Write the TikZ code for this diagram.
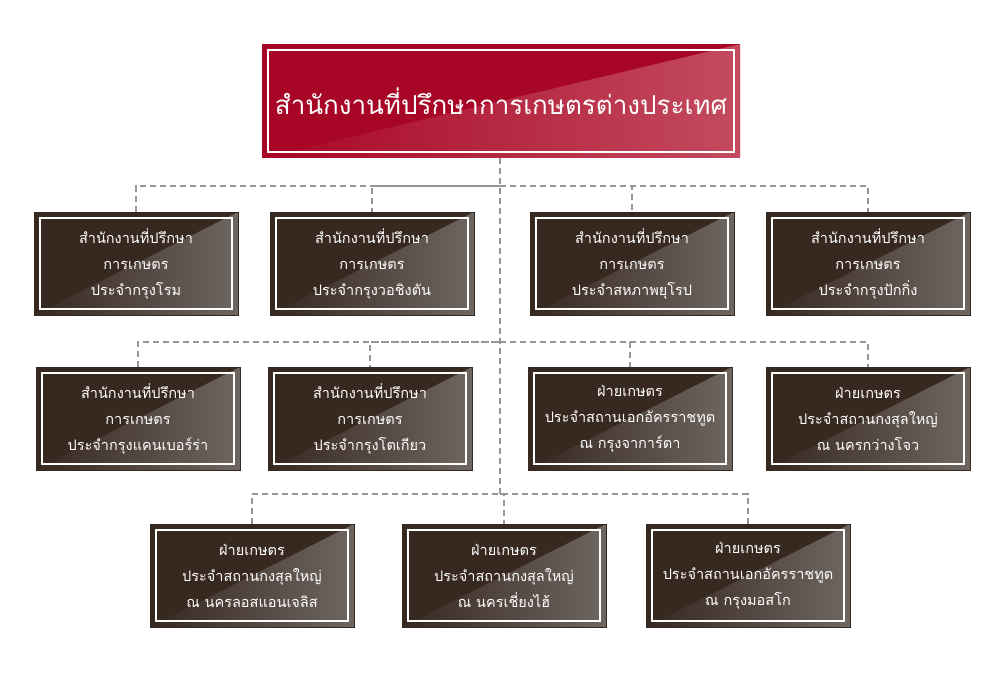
\documentclass[tikz,border=0pt]{standalone}
\usepackage{fontspec}
\newfontfamily\thai[Script=Thai]{Loma}
\begin{document}
\begin{tikzpicture}[x=1pt,y=-1pt,
 dk/.style={draw={rgb,255:red,150;green,150;blue,150},dashed,line width=1.5pt,dash pattern=on 6pt off 4pt},
 box/.style={minimum width=204pt,minimum height=103pt,inner sep=0pt,fill={rgb,255:red,55;green,40;blue,32},draw={rgb,255:red,55;green,40;blue,32},
  text=white,align=center,font=\thai\fontsize{14.5}{26}\selectfont,
  path picture={\fill[left color={rgb,255:red,55;green,40;blue,32},right color={rgb,255:red,110;green,102;blue,96}]
   (path picture bounding box.south west)--(path picture bounding box.north east)--(path picture bounding box.south east)--cycle;
   \draw[white,line width=1.3pt] ([shift={(6pt,-6pt)}]path picture bounding box.north west) rectangle ([shift={(-6pt,6pt)}]path picture bounding box.south east);}},
 topbox/.style={minimum width=478pt,minimum height=114pt,inner sep=0pt,fill={rgb,255:red,168;green,6;blue,38},
  text=white,font=\thai\fontsize{26}{30}\selectfont,
  path picture={\fill[left color={rgb,255:red,168;green,6;blue,38},right color={rgb,255:red,195;green,75;blue,95}]
   (path picture bounding box.south west)--(path picture bounding box.north east)--(path picture bounding box.south east)--cycle;
   \draw[white,line width=2.5pt] ([shift={(6pt,-6pt)}]path picture bounding box.north west) rectangle ([shift={(-6pt,6pt)}]path picture bounding box.south east);}}]
\useasboundingbox (0,0) rectangle (1000,700);
\node[topbox] (top) at (501,101) {สำนักงานที่ปรึกษาการเกษตรต่างประเทศ};
\node[box] (a1) at (136,263.5) {สำนักงานที่ปรึกษา\\การเกษตร\\ประจำกรุงโรม};
\node[box] (a2) at (372,263.5) {สำนักงานที่ปรึกษา\\การเกษตร\\ประจำกรุงวอชิงตัน};
\node[box] (a3) at (632,263.5) {สำนักงานที่ปรึกษา\\การเกษตร\\ประจำสหภาพยุโรป};
\node[box] (a4) at (868,263.5) {สำนักงานที่ปรึกษา\\การเกษตร\\ประจำกรุงปักกิ่ง};
\node[box] (b1) at (138,418.5) {สำนักงานที่ปรึกษา\\การเกษตร\\ประจำกรุงแคนเบอร์ร่า};
\node[box] (b2) at (370,418.5) {สำนักงานที่ปรึกษา\\การเกษตร\\ประจำกรุงโตเกียว};
\node[box] (b3) at (630,418.5) {ฝ่ายเกษตร\\ประจำสถานเอกอัครราชทูต\\ณ กรุงจาการ์ตา};
\node[box] (b4) at (868,418.5) {ฝ่ายเกษตร\\ประจำสถานกงสุลใหญ่\\ณ นครกว่างโจว};
\node[box] (c1) at (252,575.5) {ฝ่ายเกษตร\\ประจำสถานกงสุลใหญ่\\ณ นครลอสแอนเจลิส};
\node[box] (c2) at (504,575.5) {ฝ่ายเกษตร\\ประจำสถานกงสุลใหญ่\\ณ นครเชี่ยงไฮ้};
\node[box] (c3) at (748,575.5) {ฝ่ายเกษตร\\ประจำสถานเอกอัครราชทูต\\ณ กรุงมอสโก};
\coordinate (j1) at (500,186);
\coordinate (j2) at (500,342);
\coordinate (j3) at (500,494);
\draw[dk] (top.south -| j1) -- (j3);
\draw[dk] (a1.north) |- (j1) -| (a2.north);
\draw[dk] (j1) -| (a3.north);
\draw[dk] (j1) -| (a4.north);
\draw[dk] (b1.north) |- (j2) -| (b2.north);
\draw[dk] (j2) -| (b3.north);
\draw[dk] (j2) -| (b4.north);
\draw[dk] (c1.north) |- (j3) -| (c3.north);
\draw[dk] (j3) -| (c2.north);
\end{tikzpicture}
\end{document}
